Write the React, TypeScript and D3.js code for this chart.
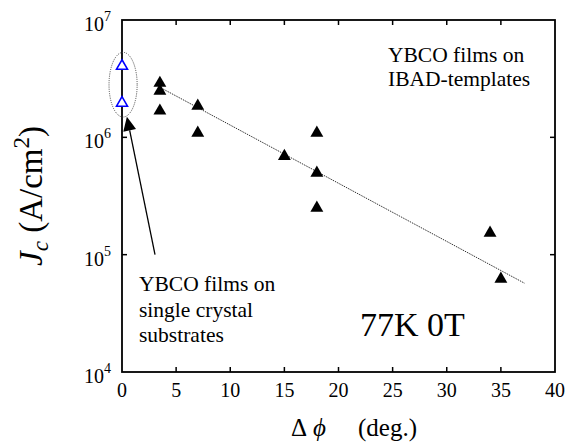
// Jc vs in-plane texture (delta phi), log scale
import React, { useEffect, useRef } from 'react';
import * as d3 from 'd3';

// IBAD-template films (filled triangles)
const ibadPhi = [3.5, 3.5, 3.5, 7, 7, 15, 18, 18, 18, 34, 35];
const ibadJc = [2.9e6, 2.48e6, 1.68e6, 1.85e6, 1.09e6, 6.9e5, 1.09e6, 4.97e5, 2.5e5, 1.53e5, 6.2e4];

// single crystal substrates (open blue triangles)
const crystalPhi = [0, 0];
const crystalJc = [4.05e6, 1.96e6];

// dotted guide line endpoints
const trendPhi = [3.8, 37.2];
const trendJc = [2.58e6, 5.7e4];

// dotted ellipse round the single crystal points, and arrow to it
const ellipsePhi = [-1.2, 1.4];
const ellipseJc = [5.3e6, 1.49e6];
const arrowPhi = [3.05, 0.45];
const arrowJc = [1.0e5, 1.5e6];

const xTicks = [0, 5, 10, 15, 20, 25, 30, 35, 40];
const yTicks = [1e4, 1e5, 1e6, 1e7];
const yExp = ['4', '5', '6', '7'];

const font = '"Liberation Serif", "Times New Roman", serif';

export default function App() {
  const svgRef = useRef<SVGSVGElement>(null);

  useEffect(() => {
    const width = 566;
    const height = 448;
    const left = 122, right = 555, top = 20, bottom = 372;

    const svg = d3.select(svgRef.current);
    svg.selectAll('*').remove();
    svg.attr('width', width).attr('height', height);

    const x = d3.scaleLinear().domain([0, 40]).range([left, right]);
    const y = d3.scaleLog().domain([1e4, 1e7]).range([bottom, top]);

    // frame
    svg.append('rect')
      .attr('x', left).attr('y', top)
      .attr('width', right - left).attr('height', bottom - top)
      .attr('fill', 'none').attr('stroke', '#000').attr('stroke-width', 1.8);

    // inward ticks
    const tickLen = 5;
    const g = svg.append('g').attr('stroke', '#000').attr('stroke-width', 1.5);
    xTicks.slice(1, -1).forEach(t => {
      g.append('line').attr('x1', x(t)).attr('x2', x(t)).attr('y1', bottom).attr('y2', bottom - tickLen);
      g.append('line').attr('x1', x(t)).attr('x2', x(t)).attr('y1', top).attr('y2', top + tickLen);
    });
    yTicks.slice(1, -1).forEach(t => {
      g.append('line').attr('y1', y(t)).attr('y2', y(t)).attr('x1', left).attr('x2', left + tickLen);
      g.append('line').attr('y1', y(t)).attr('y2', y(t)).attr('x1', right).attr('x2', right - tickLen);
    });

    // tick labels
    svg.append('g').selectAll('text').data(xTicks).join('text')
      .attr('x', d => x(d)).attr('y', bottom + 25)
      .attr('text-anchor', 'middle')
      .attr('font-family', font).attr('font-size', 20)
      .text(d => d);

    const yl = svg.append('g').selectAll('text').data(yTicks).join('text')
      .attr('x', left - 11).attr('y', d => y(d) + 11)
      .attr('text-anchor', 'end')
      .attr('font-family', font).attr('font-size', 20);
    yl.append('tspan').text('10');
    yl.append('tspan').attr('dy', -10).attr('font-size', 14).text((d, i) => yExp[i]);

    // axis titles
    const xt = svg.append('text')
      .attr('x', 291).attr('y', 436)
      .attr('font-family', font).attr('font-size', 25);
    xt.append('tspan').text('Δ');
    xt.append('tspan').attr('x', 313).attr('font-style', 'italic').text('ϕ');
    xt.append('tspan').attr('x', 358).text('(deg.)');

    const yt = svg.append('text')
      .attr('transform', 'translate(42,' + (top + bottom) / 2 + ') rotate(-90)')
      .attr('text-anchor', 'middle')
      .attr('font-family', font).attr('font-size', 33);
    yt.append('tspan').attr('font-style', 'italic').text('J');
    yt.append('tspan').attr('font-style', 'italic').attr('font-size', 23).attr('dy', 6).text('c');
    yt.append('tspan').attr('dy', -6).text(' (A/cm');
    yt.append('tspan').attr('font-size', 23).attr('dy', -13).text('2');
    yt.append('tspan').attr('dy', 13).text(')');

    // dotted trend line
    svg.append('line')
      .attr('x1', x(trendPhi[0])).attr('y1', y(trendJc[0]))
      .attr('x2', x(trendPhi[1])).attr('y2', y(trendJc[1]))
      .attr('stroke', '#333').attr('stroke-width', 1)
      .attr('stroke-dasharray', '1.5,1');

    // ellipse
    svg.append('ellipse')
      .attr('cx', (x(ellipsePhi[0]) + x(ellipsePhi[1])) / 2)
      .attr('cy', (y(ellipseJc[0]) + y(ellipseJc[1])) / 2)
      .attr('rx', (x(ellipsePhi[1]) - x(ellipsePhi[0])) / 2)
      .attr('ry', (y(ellipseJc[1]) - y(ellipseJc[0])) / 2)
      .attr('fill', 'none').attr('stroke', '#444').attr('stroke-width', 1)
      .attr('stroke-dasharray', '1,1.2');

    // arrow
    const ax0 = x(arrowPhi[0]), ay0 = y(arrowJc[0]);
    const ax1 = x(arrowPhi[1]), ay1 = y(arrowJc[1]);
    const ang = Math.atan2(ay1 - ay0, ax1 - ax0);
    const headLen = 14, headW = 6.5;
    const bx = ax1 - headLen * Math.cos(ang), by = ay1 - headLen * Math.sin(ang);
    svg.append('line')
      .attr('x1', ax0).attr('y1', ay0).attr('x2', bx).attr('y2', by)
      .attr('stroke', '#000').attr('stroke-width', 1.3);
    svg.append('path')
      .attr('d', 'M' + ax1 + ',' + ay1 +
        'L' + (bx + headW * Math.sin(ang)) + ',' + (by - headW * Math.cos(ang)) +
        'L' + (bx - headW * Math.sin(ang)) + ',' + (by + headW * Math.cos(ang)) + 'Z')
      .attr('fill', '#000');

    // markers
    const tri = d3.symbol().type(d3.symbolTriangle).size(72);
    svg.append('g').selectAll('path').data(ibadPhi).join('path')
      .attr('transform', (d, i) => 'translate(' + x(d) + ',' + y(ibadJc[i]) + ')')
      .attr('d', tri())
      .attr('fill', '#000');

    const triOpen = d3.symbol().type(d3.symbolTriangle).size(52);
    svg.append('g').selectAll('path').data(crystalPhi).join('path')
      .attr('transform', (d, i) => 'translate(' + x(d) + ',' + y(crystalJc[i]) + ')')
      .attr('d', triOpen())
      .attr('fill', '#fff').attr('stroke', '#0000ff').attr('stroke-width', 1.6);

    // annotations
    const note = (lines: string[], tx: number, ty: number, size: number, lh: number) => {
      const t = svg.append('text')
        .attr('font-family', font).attr('font-size', size);
      lines.forEach((s, i) => t.append('tspan').attr('x', tx).attr('y', ty + i * lh).text(s));
    };
    note(['YBCO films on', 'IBAD-templates'], 388, 62, 21.5, 24);
    note(['YBCO films on', 'single crystal', 'substrates'], 139, 291, 21.5, 25.5);
    note(['77K 0T'], 360, 336, 34, 0);
  }, []);

  return (
    <svg ref={svgRef} style={{ position: 'absolute', left: 0, top: 0, background: '#fff' }}></svg>
  );
}
